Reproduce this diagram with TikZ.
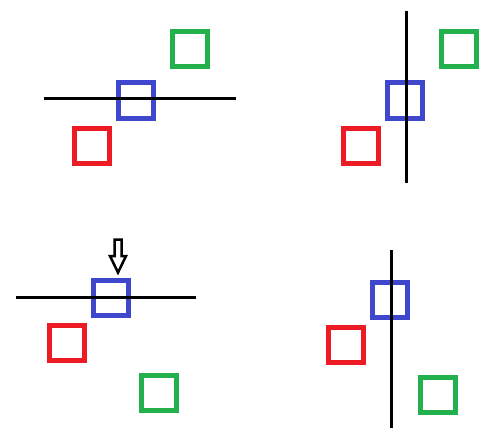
\documentclass[tikz,border=0pt]{standalone}
\usepackage{xcolor}
\usepackage{tikz}
\definecolor{paintred}{RGB}{237,28,36}
\definecolor{paintgreen}{RGB}{34,177,76}
\definecolor{paintblue}{RGB}{63,72,204}

\begin{document}
\begin{tikzpicture}[
    x=1pt, y=-1pt,
    box/.style={rectangle, minimum size=35pt, inner sep=0pt, line width=5pt},
    redbox/.style={box, draw=paintred},
    greenbox/.style={box, draw=paintgreen},
    bluebox/.style={box, draw=paintblue},
    axis/.style={line width=3pt, draw=black},
    pointer/.style={line width=2.5pt, draw=black, fill=white, line join=miter}
]
    \useasboundingbox (0,0) rectangle (502,441);

    % Top left: horizontal line
    \coordinate (tlA) at (44,98.3);
    \coordinate (tlB) at (236,98.3);
    \node (tlgreen) [greenbox] at (190,49.5) {};
    \node (tlblue) [bluebox] at (136,100.5) {};
    \node (tlred) [redbox] at (92,145.5) {};
    \draw [axis] (tlA) -- (tlB);

    % Top right: vertical line
    \coordinate (trA) at (406.3,11);
    \coordinate (trB) at (406.3,183);
    \node (trgreen) [greenbox] at (459,49.5) {};
    \node (trblue) [bluebox] at (405,100.5) {};
    \node (trred) [redbox] at (361,145.5) {};
    \draw [axis] (trA) -- (trB);

    % Bottom left: horizontal line with pointer
    \coordinate (blA) at (16,297.3);
    \coordinate (blB) at (196,297.3);
    \node (blblue) [bluebox] at (111,297.5) {};
    \node (blred) [redbox] at (67,342.5) {};
    \node (blgreen) [greenbox] at (159,392.5) {};
    \draw [axis] (blA) -- (blB);
    \draw [pointer] (114.5,239.5) -- (121.5,239.5) -- (121.5,256) -- (126,256)
        -- (118,272.5) -- (110,256) -- (114.5,256) -- cycle;

    % Bottom right: vertical line
    \coordinate (brA) at (391.3,250);
    \coordinate (brB) at (391.3,428);
    \node (brblue) [bluebox] at (390,299.5) {};
    \node (brred) [redbox] at (346,344.5) {};
    \node (brgreen) [greenbox] at (438,394.5) {};
    \draw [axis] (brA) -- (brB);
\end{tikzpicture}
\end{document}
